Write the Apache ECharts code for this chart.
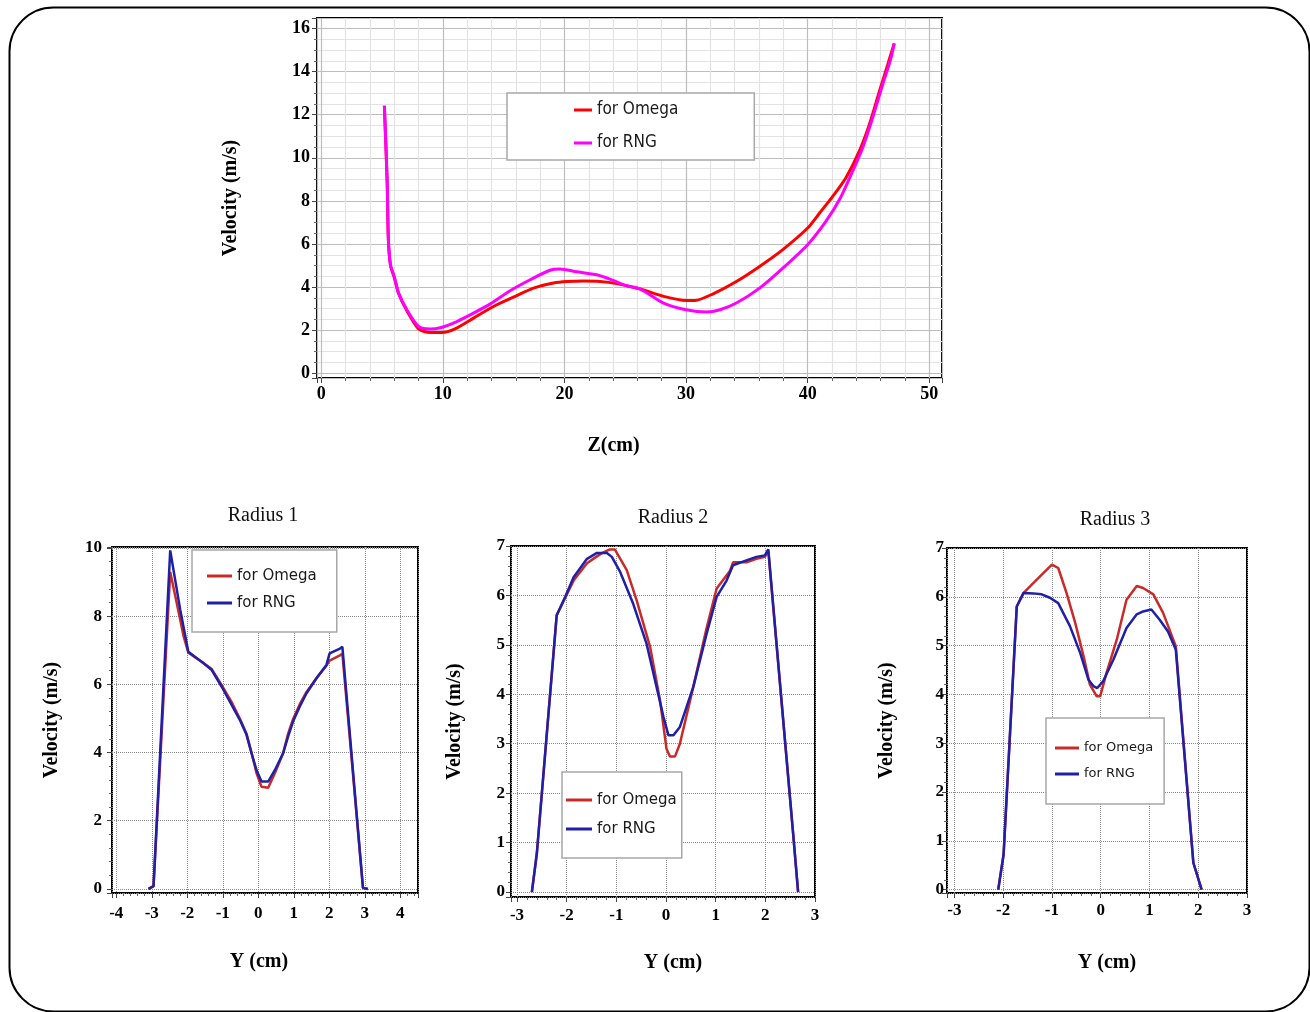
<!DOCTYPE html>
<html><head><meta charset="utf-8">
<script src="https://cdn.jsdelivr.net/npm/echarts@6/dist/echarts.min.js"></script>
<style>html,body{margin:0;padding:0;background:#fff}#c{width:1310px;height:1012px}</style>
</head><body><div id="c"></div>
<script>
// ---------- Top chart: velocity along Z ----------
const topZOmega = [5.19, 5.42, 5.52, 5.7, 6.0, 6.36, 7.04, 8.0, 8.96, 9.92, 11.0, 12.52, 14.16, 15.8, 17.45, 19.1, 20.2, 21.56, 22.93, 24.3, 26.24, 28.15, 30.0, 30.74, 32.23, 34.14, 36.05, 37.96, 40.0, 41.0, 42.05, 43.15, 44.25, 45.07, 45.9, 46.58, 47.12];
const topVOmega = [12.42, 8.9, 6.2, 5.0, 4.45, 3.7, 2.9, 2.06, 1.89, 1.89, 2.06, 2.56, 3.1, 3.53, 3.95, 4.19, 4.26, 4.28, 4.26, 4.16, 3.91, 3.57, 3.38, 3.38, 3.69, 4.26, 4.96, 5.74, 6.74, 7.45, 8.2, 9.08, 10.31, 11.54, 13.08, 14.31, 15.31];
const topZRNG = [5.19, 5.42, 5.52, 5.7, 6.0, 6.36, 7.04, 8.0, 8.96, 9.78, 11.15, 12.52, 13.9, 15.53, 17.18, 18.8, 19.64, 21.0, 22.66, 24.0, 25.1, 26.24, 28.15, 30.0, 31.7, 32.8, 34.14, 36.05, 37.96, 40.0, 41.5, 42.7, 43.7, 44.52, 45.34, 46.16, 46.85, 47.12];
const topVRNG = [12.42, 8.9, 6.2, 5.0, 4.5, 3.72, 2.95, 2.17, 2.05, 2.11, 2.4, 2.79, 3.22, 3.83, 4.34, 4.78, 4.84, 4.71, 4.57, 4.31, 4.06, 3.91, 3.26, 2.95, 2.84, 2.95, 3.26, 3.95, 4.88, 5.97, 7.05, 8.15, 9.38, 10.46, 11.85, 13.38, 14.62, 15.31];

// ---------- Radius 1 ----------
const r1YOmega = [-3.09, -2.95, -2.48, -2.3, -2.1, -1.97, -1.59, -1.31, -1.03, -0.75, -0.52, -0.33, -0.19, -0.05, 0.09, 0.28, 0.47, 0.7, 0.84, 0.98, 1.17, 1.36, 1.64, 1.92, 2.01, 2.3, 2.37, 2.95, 3.09];
const r1VOmega = [0, 0.08, 9.3, 8.4, 7.4, 6.93, 6.66, 6.45, 5.98, 5.48, 5.0, 4.55, 4.0, 3.4, 3.0, 2.97, 3.4, 3.98, 4.55, 4.98, 5.42, 5.78, 6.18, 6.55, 6.7, 6.85, 6.9, 0.03, 0];
const r1YRNG = [-3.09, -2.95, -2.48, -2.37, -2.2, -1.97, -1.59, -1.31, -1.03, -0.75, -0.52, -0.33, -0.19, -0.05, 0.09, 0.28, 0.47, 0.7, 0.84, 0.98, 1.17, 1.36, 1.64, 1.92, 2.01, 2.3, 2.37, 2.95, 3.09];
const r1VRNG = [0, 0.08, 9.93, 9.25, 8.2, 6.96, 6.66, 6.42, 5.93, 5.4, 4.96, 4.52, 3.98, 3.49, 3.15, 3.15, 3.49, 3.98, 4.47, 4.91, 5.35, 5.74, 6.18, 6.57, 6.91, 7.05, 7.1, 0.03, 0];

// ---------- Radius 2 ----------
const r2YOmega = [-2.7, -2.6, -2.2, -2.03, -1.86, -1.59, -1.45, -1.3, -1.13, -1.03, -0.79, -0.59, -0.32, -0.12, 0.01, 0.08, 0.18, 0.28, 0.55, 0.82, 1.02, 1.29, 1.35, 1.62, 1.82, 1.99, 2.06, 2.56, 2.66];
const r2VOmega = [0, 0.78, 5.6, 5.95, 6.3, 6.65, 6.75, 6.85, 6.93, 6.93, 6.51, 5.9, 4.96, 3.88, 2.9, 2.74, 2.74, 3.0, 4.15, 5.35, 6.14, 6.5, 6.67, 6.67, 6.74, 6.78, 6.9, 1.18, 0];
const r2YRNG = [-2.7, -2.6, -2.2, -2.03, -1.86, -1.59, -1.39, -1.19, -1.09, -0.92, -0.66, -0.39, -0.19, -0.05, 0.05, 0.15, 0.28, 0.55, 0.82, 1.02, 1.22, 1.35, 1.62, 1.82, 1.99, 2.06, 2.56, 2.66];
const r2VRNG = [0, 0.78, 5.6, 5.97, 6.37, 6.74, 6.86, 6.86, 6.78, 6.47, 5.83, 5.02, 4.15, 3.54, 3.17, 3.17, 3.34, 4.15, 5.23, 5.97, 6.3, 6.61, 6.71, 6.78, 6.81, 6.93, 1.18, 0];

// ---------- Radius 3 ----------
const r3YOmega = [-2.1, -1.99, -1.72, -1.58, -1.31, -1.0, -0.87, -0.7, -0.52, -0.35, -0.22, -0.08, -0.01, 0.12, 0.33, 0.53, 0.74, 0.87, 1.08, 1.28, 1.54, 1.9, 2.07];
const r3VOmega = [0, 0.72, 5.8, 6.08, 6.35, 6.66, 6.59, 6.08, 5.46, 4.78, 4.2, 3.96, 3.96, 4.44, 5.12, 5.94, 6.22, 6.18, 6.05, 5.67, 4.99, 0.55, 0];
const r3YRNG = [-2.1, -1.99, -1.72, -1.58, -1.38, -1.21, -1.04, -0.87, -0.63, -0.42, -0.25, -0.15, -0.07, 0.05, 0.26, 0.53, 0.74, 0.87, 1.04, 1.21, 1.38, 1.54, 1.9, 2.07];
const r3VRNG = [0, 0.72, 5.8, 6.08, 6.07, 6.05, 5.98, 5.87, 5.4, 4.85, 4.3, 4.17, 4.13, 4.27, 4.71, 5.36, 5.64, 5.7, 5.74, 5.53, 5.29, 4.92, 0.55, 0];

const titles = ['Radius 1', 'Radius 2', 'Radius 3'];

// ---------- helpers ----------
const SERIF = '"Liberation Serif","Times New Roman",serif';
const SANS = '"DejaVu Sans",Verdana,sans-serif';
const SANSC = '"DejaVu Sans Condensed","DejaVu Sans",Tahoma,sans-serif';
const zip = (a, b) => a.map((v, i) => [v, b[i]]);
const intLabel = v => { const r = Math.round(v); return Math.abs(v - r) < 1e-6 ? String(r) : ''; };
const onStep = (v, s) => Math.abs(v / s - Math.round(v / s)) < 1e-9;

function axis(kind, gi, min, max, step, c) {
  return {
    type: 'value', gridIndex: gi, min: min, max: max,
    minInterval: step, maxInterval: step, splitNumber: Math.max(1, Math.round((max - min) / step)),
    axisLine: { show: false, onZero: false },
    axisTick: { show: true, length: 5, lineStyle: { color: '#444', width: 1 } },
    minorTick: { show: true, splitNumber: c.minorN, length: 3, lineStyle: { color: '#666', width: 1 } },
    axisLabel: { formatter: intLabel, fontFamily: SERIF, fontWeight: 'bold', fontSize: c.fs, color: '#000',
      margin: c.margin, showMinLabel: onStep(min, step), showMaxLabel: onStep(max, step) },
    splitLine: { show: true, lineStyle: c.split },
    minorSplitLine: { show: !!c.minor, lineStyle: c.minor || {} },
    name: c.name, nameLocation: 'middle', nameGap: c.gap,
    nameTextStyle: { fontFamily: SERIF, fontWeight: 'bold', fontSize: 20, color: '#000', padding: c.pad || 0 }
  };
}

const topMajor = { color: '#bdbdbd', width: 1.2 };
const topMinor = { color: '#e3e3e3', width: 1.2 };
const botMajor = { color: '#8a8a8a', width: 1, type: 'dotted' };

const grids = [
  { left: 317, top: 18, width: 625, height: 360 },
  { left: 112, top: 547, width: 306, height: 346 },
  { left: 511, top: 546, width: 304, height: 351 },
  { left: 947, top: 548, width: 300, height: 345 }
].map(g => Object.assign(g, { show: true, borderColor: '#000', borderWidth: 2, backgroundColor: '#fff' }));

const xAxes = [
  axis('x', 0, -0.35, 51.05, 10, { minorN: 5, fs: 18, margin: 7, split: topMajor, minor: topMinor, name: 'Z(cm)', gap: 58, pad: [0, 32, 0, 0] }),
  axis('x', 1, -4.12, 4.5, 1, { minorN: 5, fs: 17, margin: 12, split: botMajor, name: 'Y (cm)', gap: 59, pad: [0, 12, 0, 0] }),
  axis('x', 2, -3.12, 3.0, 1, { minorN: 5, fs: 17, margin: 10, split: botMajor, name: 'Y (cm)', gap: 56, pad: [0, 0, 0, 20] }),
  axis('x', 3, -3.15, 3.0, 1, { minorN: 5, fs: 17, margin: 9, split: botMajor, name: 'Y (cm)', gap: 60, pad: [0, 0, 0, 20] })
];
const yAxes = [
  axis('y', 0, -0.22, 16.49, 2, { minorN: 4, fs: 18, margin: 7, split: topMajor, minor: topMinor, name: 'Velocity (m/s)', gap: 76 }),
  axis('y', 1, -0.12, 10.03, 2, { minorN: 5, fs: 17, margin: 10, split: botMajor, name: 'Velocity (m/s)', gap: 50 }),
  axis('y', 2, -0.1, 7.0, 1, { minorN: 5, fs: 17, margin: 6, split: botMajor, name: 'Velocity (m/s)', gap: 46 }),
  axis('y', 3, -0.07, 7.0, 1, { minorN: 5, fs: 17, margin: 3, split: botMajor, name: 'Velocity (m/s)', gap: 50 })
];

const OM_TOP = '#ff0000', RNG_TOP = '#ff00ff', OM_BOT = '#c92a2a', RNG_BOT = '#1f1fa8';
function line(name, idx, data, color, width, smooth) {
  return { type: 'line', name: name, xAxisIndex: idx, yAxisIndex: idx, data: data, color: color,
    showSymbol: false, symbol: 'none', smooth: smooth, lineStyle: { color: color, width: width } };
}
const series = [
  line('for Omega', 0, zip(topZOmega, topVOmega), OM_TOP, 3, 0.25),
  line('for RNG', 0, zip(topZRNG, topVRNG), RNG_TOP, 3, 0.25),
  line('for Omega ', 1, zip(r1YOmega, r1VOmega), OM_BOT, 2.5, false),
  line('for RNG ', 1, zip(r1YRNG, r1VRNG), RNG_BOT, 2.5, false),
  line('for Omega ', 2, zip(r2YOmega, r2VOmega), OM_BOT, 2.5, false),
  line('for RNG ', 2, zip(r2YRNG, r2VRNG), RNG_BOT, 2.5, false),
  line('for Omega ', 3, zip(r3YOmega, r3VOmega), OM_BOT, 2.5, false),
  line('for RNG ', 3, zip(r3YRNG, r3VRNG), RNG_BOT, 2.5, false)
];

function legend(names, left, top, pad, iw, gap, fs, font) {
  return { data: names, orient: 'vertical', left: left, top: top, padding: pad, itemGap: gap,
    icon: 'rect', itemWidth: iw, itemHeight: 3, itemStyle: { borderWidth: 0 },
    backgroundColor: '#fff', borderColor: '#a8a8a8', borderWidth: 1.5, selectedMode: false,
    formatter: n => n.trim(),
    textStyle: { fontFamily: font, fontSize: fs, lineHeight: fs + 1, color: '#1a1a1a' } };
}
const legends = [
  legend(['for Omega', 'for RNG'], 507, 93, [8, 76, 8, 67], 18, 15, 17, SANSC),
  legend(['for Omega ', 'for RNG '], 192, 550, [18, 20, 21, 15], 25, 11, 15, SANS),
  legend(['for Omega ', 'for RNG '], 562, 772, [20, 5, 21, 4], 26, 13, 15, SANS),
  legend(['for Omega ', 'for RNG '], 1046, 718, [23, 11, 23, 9], 24, 12, 13, SANS)
];

const titleCenters = [[263, 506], [673, 508], [1115, 510]];
const title = titles.map((t, i) => ({ text: t, left: titleCenters[i][0], top: titleCenters[i][1], textAlign: 'center',
  padding: 0, textStyle: { fontFamily: SERIF, fontWeight: 'normal', fontSize: 20, color: '#111' } }));

const chart = echarts.init(document.getElementById('c'), null, { renderer: 'canvas' });
chart.setOption({
  animation: false,
  backgroundColor: '#fff',
  title: title,
  grid: grids,
  xAxis: xAxes,
  yAxis: yAxes,
  legend: legends,
  series: series,
  graphic: [{ type: 'rect', left: 7, top: 5, z: 100, silent: true,
    shape: { width: 1300, height: 1004, r: 44 },
    style: { fill: 'none', stroke: '#000', lineWidth: 2 } }]
});
</script></body></html>
